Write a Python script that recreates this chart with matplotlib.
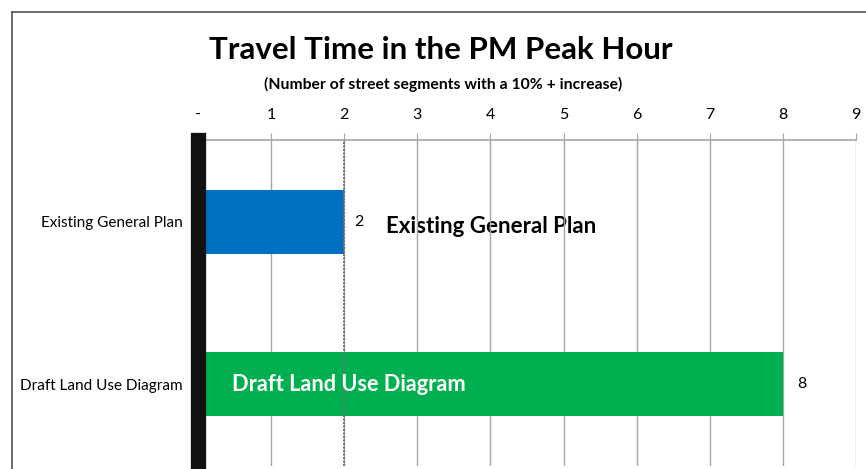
import numpy as np
import matplotlib.pyplot as plt
from matplotlib.lines import Line2D

categories = ['Existing General Plan', 'Draft Land Use Diagram']
values = [2, 8]
colors = ['#0070c0', '#00b050']
tick_vals = list(range(10))
tick_labels = ['-', '1', '2', '3', '4', '5', '6', '7', '8', '9']

plt.rcParams['font.family'] = ['Lato', 'DejaVu Sans']

W, H = 866, 469
dpi = 100
fig = plt.figure(figsize=(W / dpi, H / dpi), dpi=dpi)

# axes placed in pixel coords
left, right, top, bottom = 198, 856, 140, 466
ax = fig.add_axes([left / W, 1 - bottom / H, (right - left) / W, (bottom - top) / H])

y = np.arange(len(categories))
ax.barh(y, values, height=0.4, color=colors, zorder=2)

ax.set_xlim(0, 9)
ax.set_ylim(1.506, -0.506)

ax.xaxis.tick_top()
ax.set_xticks(tick_vals)
ax.set_xticklabels(tick_labels, fontsize=11.5)
ax.tick_params(axis='x', direction='out', length=5, color='#a6a6a6', pad=8)
ax.set_yticks(y)
ax.set_yticklabels(categories, fontsize=11)
ax.tick_params(axis='y', length=0, pad=11)

ax.grid(axis='x', color='#a6a6a6', linewidth=1.0, zorder=1)
ax.set_axisbelow(True)
ax.axvline(2, color='#707070', linewidth=1.4, linestyle=(0, (1, 0.8)), zorder=3)

for s in ['right', 'bottom']:
    ax.spines[s].set_visible(False)
ax.spines['top'].set_color('#a6a6a6')
ax.spines['top'].set_linewidth(1.2)
ax.spines['left'].set_color('#111111')
ax.spines['left'].set_linewidth(11)
ax.spines['left'].set_zorder(4)

# value labels and in-chart names
ax.text(values[0] + 0.13, 0, str(values[0]), va='center', ha='left', fontsize=11.5)
ax.text(2.57, 0.025, categories[0], va='center', ha='left', fontsize=16,
        fontweight='bold', zorder=0.5)
ax.text(values[1] + 0.19, 1, str(values[1]), va='center', ha='left', fontsize=11.5)
ax.text(0.47, 1, categories[1], va='center', ha='left', fontsize=15.7,
        fontweight='bold', color='white', zorder=5)

fig.text(441 / W, 1 - 50 / H, 'Travel Time in the PM Peak Hour', ha='center',
         va='center', fontsize=22.5, fontweight='bold')
fig.text(443 / W, 1 - 84 / H, '(Number of street segments with a 10% + increase)',
         ha='center', va='center', fontsize=11.3, fontweight='bold')

# outer frame (top and left edges visible)
fig.add_artist(Line2D([12 / W, 1], [1 - 12 / H, 1 - 12 / H], color='#606060', linewidth=1.3))
fig.add_artist(Line2D([12 / W, 12 / W], [0, 1 - 12 / H], color='#606060', linewidth=1.3))

fig.savefig('out.png', dpi=dpi)
